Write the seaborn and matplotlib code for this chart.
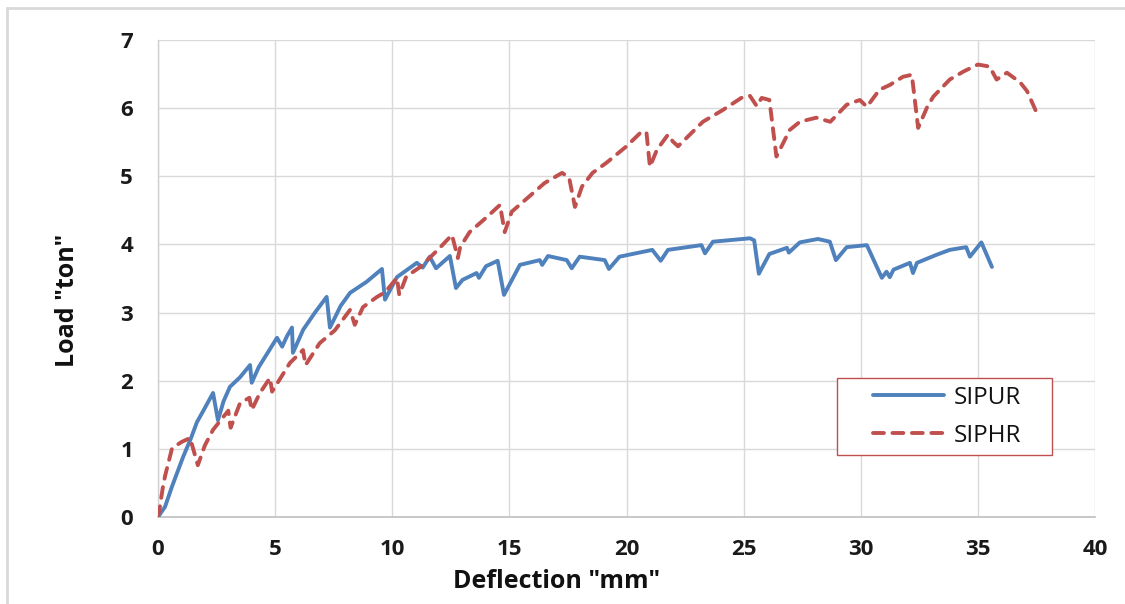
import matplotlib
matplotlib.use("Agg")
import matplotlib.pyplot as plt
import seaborn as sns
import pandas as pd
from matplotlib.lines import Line2D
from matplotlib.patches import Rectangle

# ---- data ----
sipur_x = [0, 0.3, 0.6, 1.07, 1.4, 1.66, 2.0, 2.35, 2.56, 2.8, 3.07, 3.5, 3.93, 4.0,
           4.3, 4.7, 5.08, 5.3, 5.5, 5.72, 5.76, 6.2, 6.7, 7.2, 7.34, 7.8, 8.2, 8.9,
           9.56, 9.69, 10.2, 11.05, 11.3, 11.6, 11.87, 12.46, 12.72, 13.0, 13.6, 13.7,
           14.0, 14.5, 14.77, 15.45, 16.3, 16.4, 16.65, 17.45, 17.66, 18.0, 19.07,
           19.25, 19.7, 21.1, 21.46, 21.77, 23.2, 23.35, 23.69, 25.27, 25.45, 25.65,
           26.1, 26.85, 26.93, 27.4, 28.17, 28.68, 28.94, 29.4, 30.26, 30.9, 31.1,
           31.24, 31.4, 32.1, 32.23, 32.4, 33.25, 33.8, 34.5, 34.66, 35.15, 35.6]
sipur_y = [0, 0.15, 0.45, 0.88, 1.15, 1.39, 1.6, 1.82, 1.42, 1.7, 1.91, 2.05, 2.23, 1.97,
           2.2, 2.42, 2.63, 2.5, 2.65, 2.78, 2.41, 2.75, 3.0, 3.23, 2.78, 3.1, 3.29, 3.45,
           3.64, 3.19, 3.52, 3.73, 3.66, 3.82, 3.65, 3.83, 3.36, 3.48, 3.58, 3.51,
           3.68, 3.76, 3.26, 3.70, 3.77, 3.70, 3.83, 3.77, 3.65, 3.82, 3.77,
           3.64, 3.82, 3.92, 3.76, 3.92, 3.99, 3.87, 4.04, 4.09, 4.06, 3.57,
           3.86, 3.95, 3.88, 4.03, 4.08, 4.04, 3.77, 3.96, 3.99, 3.51, 3.60,
           3.52, 3.63, 3.73, 3.58, 3.73, 3.85, 3.92, 3.96, 3.82, 4.03, 3.67]

siphr_x = [0, 0.08, 0.2, 0.3, 0.6, 1.0, 1.37, 1.7, 2.0, 2.35, 3.0, 3.1, 3.5, 3.9, 4.0,
           4.35, 4.78, 4.87, 5.63, 6.19, 6.3, 6.9, 7.55, 8.2, 8.4, 8.75, 9.35, 9.7,
           10.2, 10.3, 10.6, 11.2, 11.5, 12.0, 12.55, 12.8, 12.9, 13.3, 14.0, 14.6,
           14.8, 15.1, 16.0, 16.5, 17.25, 17.55, 17.8, 18.1, 18.55, 19.15, 20.0, 20.6,
           20.85, 21.0, 21.3, 21.77, 21.98, 22.2, 22.7, 23.26, 24.1, 24.9, 25.27,
           25.56, 25.77, 26.1, 26.4, 26.97, 27.4, 28.1, 28.7, 29.4, 29.96, 30.26,
           30.8, 31.24, 31.8, 32.18, 32.45, 32.84, 33.1, 33.8, 34.4, 35.0, 35.5,
           35.8, 36.24, 36.8, 37.1, 37.5]
siphr_y = [0, 0.15, 0.42, 0.6, 1.01, 1.1, 1.16, 0.76, 1.05, 1.28, 1.56, 1.31, 1.67, 1.75, 1.57,
           1.82, 2.04, 1.84, 2.26, 2.45, 2.23, 2.55, 2.74, 3.04, 2.82, 3.08, 3.23, 3.30,
           3.51, 3.26, 3.53, 3.67, 3.77, 3.94, 4.14, 3.80, 3.96, 4.18, 4.39, 4.58,
           4.18, 4.48, 4.75, 4.90, 5.05, 4.98, 4.55, 4.85, 5.05, 5.20, 5.44, 5.64,
           5.65, 5.14, 5.39, 5.61, 5.51, 5.44, 5.61, 5.80, 5.97, 6.15, 6.18,
           6.03, 6.15, 6.12, 5.29, 5.68, 5.80, 5.86, 5.80, 6.05, 6.12, 6.02,
           6.27, 6.34, 6.46, 6.49, 5.71, 6.02, 6.17, 6.42, 6.54, 6.64, 6.61,
           6.42, 6.52, 6.38, 6.25, 5.94]

x_ticks = [0, 5, 10, 15, 20, 25, 30, 35, 40]
y_ticks = [0, 1, 2, 3, 4, 5, 6, 7]
series_names = ["SIPUR", "SIPHR"]
x_title = 'Deflection "mm"'
y_title = 'Load "ton"'

BLUE = "#4F81BD"
RED = "#C0504D"
DASH = (0, (2.8, 2.2))

sns.set_theme(style="white")
plt.rcParams["font.family"] = ["Open Sans", "DejaVu Sans"]

fig = plt.figure(figsize=(11.25, 6.04), dpi=100)
ax = fig.add_axes([158/1125, 1-517/604, 937/1125, 477/604])

df_u = pd.DataFrame({"x": sipur_x, "y": sipur_y})
df_h = pd.DataFrame({"x": siphr_x, "y": siphr_y})

sns.lineplot(data=df_u, x="x", y="y", ax=ax, sort=False, estimator=None,
             color=BLUE, linewidth=2.8, zorder=3)
ax.lines[-1].set_solid_joinstyle("round")
ax.lines[-1].set_solid_capstyle("round")
sns.lineplot(data=df_h, x="x", y="y", ax=ax, sort=False, estimator=None,
             color=RED, linewidth=2.8, zorder=4)
ax.lines[-1].set_linestyle(DASH)
ax.lines[-1].set_dash_capstyle("round")

ax.set_xlim(0, 40)
ax.set_ylim(0, 7)
ax.set_xticks(x_ticks)
ax.set_yticks(y_ticks)
ax.set_xticklabels([str(t) for t in x_ticks], fontsize=16, fontweight="bold")
ax.set_yticklabels([str(t) for t in y_ticks], fontsize=16, fontweight="bold")
ax.tick_params(axis="x", length=0, pad=16, colors="#1a1a1a")
ax.tick_params(axis="y", length=0, pad=18, colors="#1a1a1a")

ax.grid(True, color="#d9d9d9", linewidth=1.0)
ax.set_axisbelow(True)
for s in ["top", "right"]:
    ax.spines[s].set_visible(False)
ax.spines["left"].set_color("#d0d0d0")
ax.spines["bottom"].set_color("#bfbfbf")
ax.spines["left"].set_linewidth(1.0)
ax.spines["bottom"].set_linewidth(1.2)

ax.set_xlabel(x_title, fontsize=18, fontweight="bold", color="#111111")
ax.set_ylabel(y_title, fontsize=18, fontweight="bold", color="#111111")
ax.xaxis.set_label_coords(0.425, -0.108)
ax.yaxis.set_label_coords(-0.083, 0.455)

# legend box
ax.add_patch(Rectangle((0.725, 0.130), 0.229, 0.161, transform=ax.transAxes,
                       facecolor="white", edgecolor=RED, linewidth=1.0, zorder=5))
handles = [Line2D([0], [0], color=BLUE, linewidth=2.8, solid_capstyle="round"),
           Line2D([0], [0], color=RED, linewidth=2.8, linestyle=DASH, dash_capstyle="round")]
leg = ax.legend(handles, series_names, loc="center", bbox_to_anchor=(0.842, 0.2105),
                fontsize=17.5, frameon=False, handlelength=2.9,
                borderaxespad=0, borderpad=0.0, labelspacing=0.58, handletextpad=0.4)
leg.set_zorder(6)
for t in leg.get_texts():
    t.set_color("#111111")
    t.set_fontweight("medium")

# outer chart border (left and top visible)
fig.add_artist(Line2D([7/1125, 7/1125], [0, 1-8/604], color="#d9d9d9", linewidth=2.0, transform=fig.transFigure))
fig.add_artist(Line2D([7/1125, 1], [1-8/604, 1-8/604], color="#d9d9d9", linewidth=2.0, transform=fig.transFigure))

fig.savefig("out.png", dpi=100, facecolor="white")
